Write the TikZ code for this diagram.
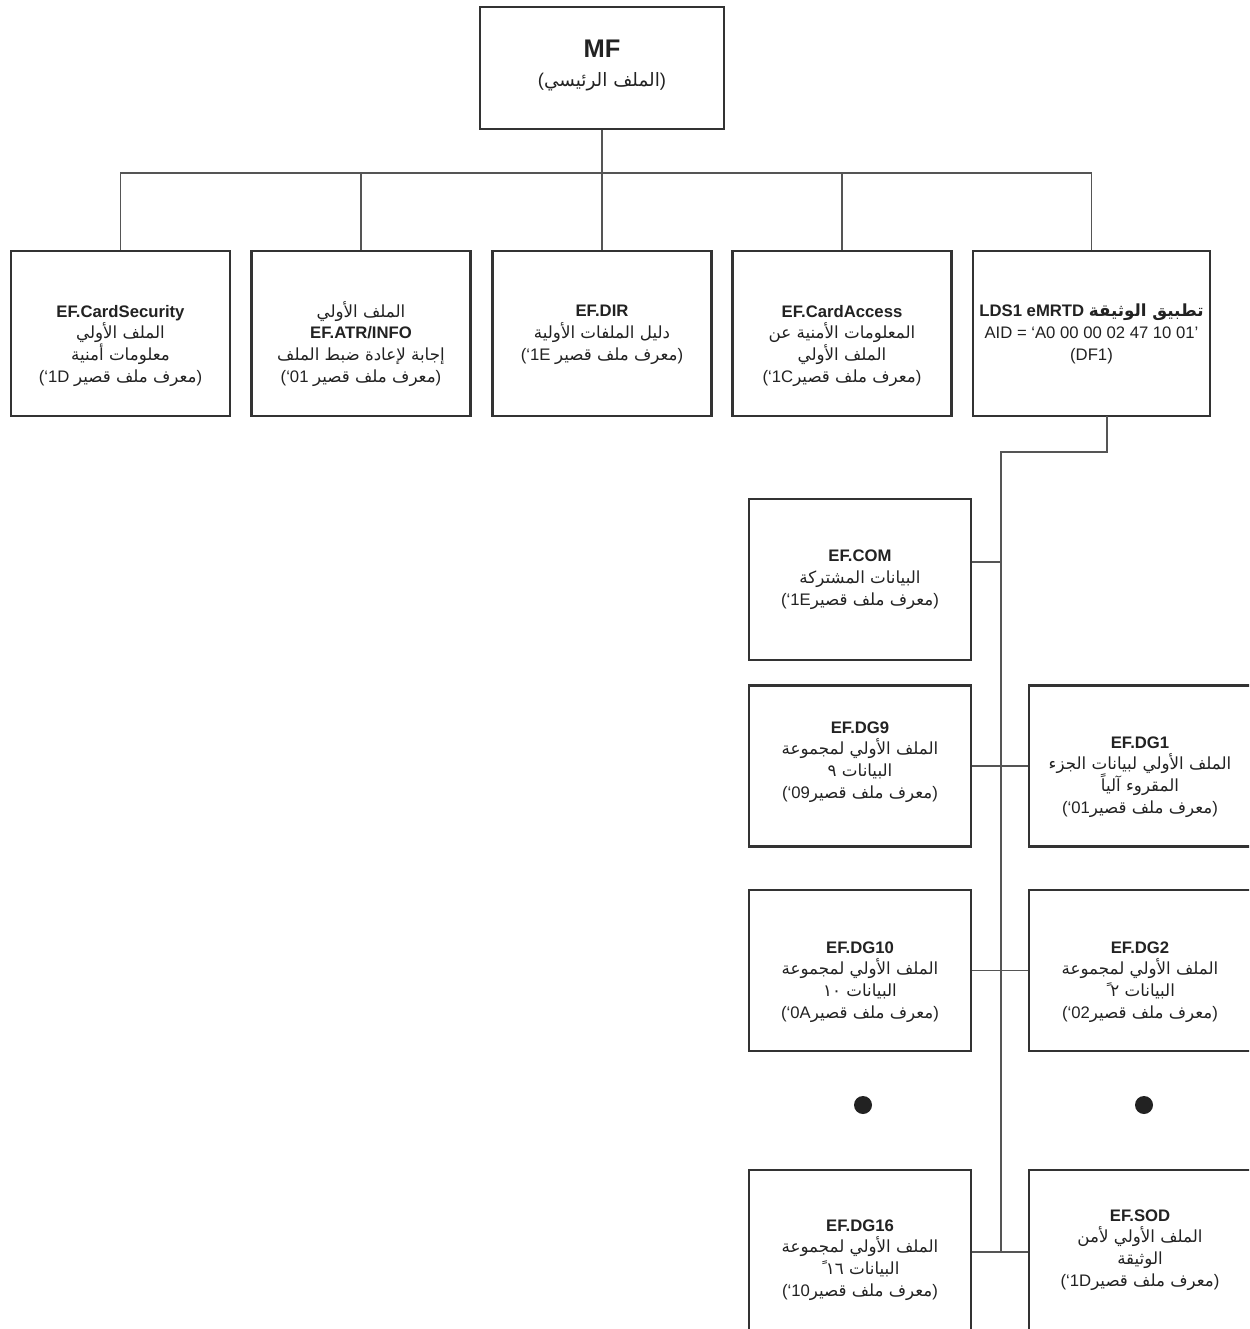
\documentclass[tikz,border=0pt]{standalone}
\usepackage{fontspec}
\setmainfont{Liberation Sans}
\newfontfamily\arabicfont[Script=Arabic]{DejaVu Sans}
\TeXXeTstate=1
% Arabic words set right to left inside a line
\newcommand{\artxt}[1]{{\arabicfont\beginR #1\endR}}
% short file identifier line, laid out right to left
\newcommand{\sfid}[1]{(‘#1\artxt{معرف ملف قصير})}
\definecolor{boxline}{HTML}{333333}
\definecolor{wireline}{HTML}{555555}
\definecolor{ink}{HTML}{222222}
\tikzset{
  filebox/.style={draw=boxline, line width=1.4pt, minimum width=4.38cm,
    minimum height=3.3cm, inner sep=0pt},
  lowbox/.style={filebox, minimum width=4.44cm, minimum height=3.22cm},
  % anchored on the baseline of the last line
  boxtext/.style={inner sep=0pt, align=center, anchor=base, text=ink,
    font=\fontsize{9.5pt}{12.3pt}\selectfont},
  wire/.style={draw=wireline, line width=0.6pt},
  moredot/.style={circle, fill=ink, minimum size=0.36cm, inner sep=0pt},
}
\begin{document}
\begin{tikzpicture}[x=0.02cm, y=-0.02cm]
\useasboundingbox (0,0) rectangle (1249,1329);
\clip (0,0) rectangle (1249,1329);
\fill[white] (0,0) rectangle (1249,1329);

% master file
\node[filebox, minimum width=4.88cm, minimum height=2.44cm] (mf) at (602,68) {};
\node[boxtext] (mft) at (602,86) {{\fontsize{14.5pt}{16pt}\selectfont\textbf{MF}}\\[4pt]
  {\fontsize{10.5pt}{12pt}\selectfont(\artxt{الملف الرئيسي})}};

% first level
\node[filebox] (cs) at (120.5,333.5) {};
\node[filebox] (atr) at (361,333.5) {};
\node[filebox] (dir) at (602,333.5) {};
\node[filebox] (ca) at (842,333.5) {};
\node[filebox, minimum width=4.74cm] (lds) at (1091.5,333.5) {};

\node[boxtext] (cst) at (120.5,382) {\textbf{EF.CardSecurity}\\
  \artxt{الملف الأولي}\\
  \artxt{معلومات أمنية}\\
  \sfid{1D }};
\node[boxtext] (atrt) at (361,382) {\artxt{الملف الأولي}\\
  \textbf{EF.ATR/INFO}\\
  \artxt{إجابة لإعادة ضبط الملف}\\
  \sfid{01 }};
\node[boxtext] (dirt) at (602,360) {\textbf{EF.DIR}\\
  \artxt{دليل الملفات الأولية}\\
  \sfid{1E }};
\node[boxtext] (cat) at (842,382) {\textbf{EF.CardAccess}\\
  \artxt{المعلومات الأمنية عن}\\
  \artxt{الملف الأولي}\\
  \sfid{1C}};
\node[boxtext] (ldst) at (1091.5,360) {\textbf{LDS1 eMRTD \artxt{تطبيق الوثيقة}}\\
  AID = ‘A0 00 00 02 47 10 01’\\
  (DF1)};

% bus from the master file
\coordinate (bus) at (0,173);
\draw[wire] (mf.south) -- (mf.south |- bus);
\draw[wire] (cs.north) |- (lds.north |- bus) -- (lds.north);
\draw[wire] (atr.north) -- (atr.north |- bus);
\draw[wire] (dir.north) -- (dir.north |- bus);
\draw[wire] (ca.north) -- (ca.north |- bus);

% application files
\node[lowbox] (com) at (860,579.5) {};
\node[lowbox] (dg9) at (860,766) {};
\node[lowbox] (dg1) at (1140,766) {};
\node[lowbox] (dg10) at (860,970.5) {};
\node[lowbox] (dg2) at (1140,970.5) {};
\node[lowbox] (dg16) at (860,1250.5) {};
\node[lowbox] (sod) at (1140,1250.5) {};

\node[boxtext] (comt) at (860,605) {\textbf{EF.COM}\\
  \artxt{البيانات المشتركة}\\
  \sfid{1E}};
\node[boxtext] (dg9t) at (860,798) {\textbf{EF.DG9}\\
  \artxt{الملف الأولي لمجموعة}\\
  \artxt{البيانات ٩}\\
  \sfid{09}};
\node[boxtext] (dg1t) at (1140,813) {\textbf{EF.DG1}\\
  \artxt{الملف الأولي لبيانات الجزء}\\
  \artxt{المقروء آلياً}\\
  \sfid{01}};
\node[boxtext] (dg10t) at (860,1018) {\textbf{EF.DG10}\\
  \artxt{الملف الأولي لمجموعة}\\
  \artxt{البيانات ١٠}\\
  \sfid{0A}};
\node[boxtext] (dg2t) at (1140,1018) {\textbf{EF.DG2}\\
  \artxt{الملف الأولي لمجموعة}\\
  \artxt{البيانات ٢ ً}\\
  \sfid{02}};
\node[boxtext] (dg16t) at (860,1296) {\textbf{EF.DG16}\\
  \artxt{الملف الأولي لمجموعة}\\
  \artxt{البيانات ١٦ ً}\\
  \sfid{10}};
\node[boxtext] (sodt) at (1140,1286) {\textbf{EF.SOD}\\
  \artxt{الملف الأولي لأمن}\\
  \artxt{الوثيقة}\\
  \sfid{1D}};

% trunk under the application
\coordinate (ldsout) at (1107,416);
\coordinate (trunktop) at (1001,452);
\coordinate (trunkbot) at (1001,1252);
\coordinate (comtie) at (0,562);
\draw[wire] (ldsout) |- (trunktop) -- (trunkbot);
\draw[wire] (com.east |- comtie) -- (trunktop |- comtie);
\draw[wire] (dg9.east) -- (dg1.west);
\draw[wire] (dg10.east) -- (dg2.west);
\draw[wire] (dg16.east |- trunkbot) -- (sod.west |- trunkbot);

% continuation marks
\node[moredot] (moreL) at (863,1105) {};
\node[moredot] (moreR) at (1144,1105) {};
\end{tikzpicture}
\end{document}
